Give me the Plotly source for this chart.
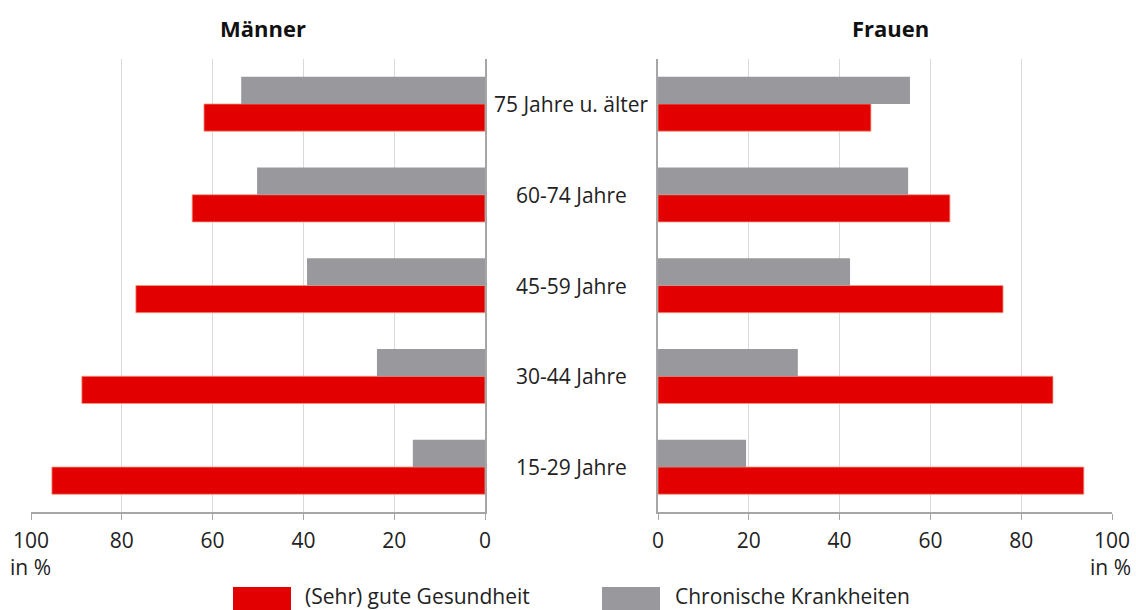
import plotly.graph_objects as go

categories = ["15-29 Jahre", "30-44 Jahre", "45-59 Jahre", "60-74 Jahre", "75 Jahre u. älter"]
men_health = [95.4, 88.8, 76.9, 64.5, 61.9]
men_chronic = [15.9, 23.8, 39.2, 50.2, 53.7]
women_health = [93.8, 87.0, 76.0, 64.3, 46.9]
women_chronic = [19.4, 30.8, 42.3, 55.1, 55.5]
tick_vals = [0, 20, 40, 60, 80, 100]
tick_text = ["0", "20", "40", "60", "80", "100"]

RED = "#E30000"
GRAY = "#99989D"
FONT = "Open Sans"
FS = 21

fig = go.Figure()
fig.add_trace(go.Bar(y=categories, x=men_health, orientation="h", marker=dict(color=RED, line=dict(color="#F39A80", width=0.8)),
                     xaxis="x", yaxis="y", showlegend=False, name="(Sehr) gute Gesundheit"))
fig.add_trace(go.Bar(y=categories, x=men_chronic, orientation="h", marker=dict(color=GRAY, line=dict(width=0)),
                     xaxis="x", yaxis="y", showlegend=False, name="Chronische Krankheiten"))
fig.add_trace(go.Bar(y=categories, x=women_health, orientation="h", marker=dict(color=RED, line=dict(color="#F39A80", width=0.8)),
                     xaxis="x2", yaxis="y2", showlegend=False, name="(Sehr) gute Gesundheit"))
fig.add_trace(go.Bar(y=categories, x=women_chronic, orientation="h", marker=dict(color=GRAY, line=dict(width=0)),
                     xaxis="x2", yaxis="y2", showlegend=False, name="Chronische Krankheiten"))

W, H = 1136, 610
ydom = [1 - 512.4 / H, 1 - 58.6 / H]
xcommon = dict(tickvals=tick_vals, ticktext=tick_text, showgrid=True, gridcolor="#D9D9D9", gridwidth=1,
               zeroline=False, showline=True, linecolor="#A6A6A6", linewidth=1.5,
               ticks="outside", ticklen=6, tickcolor="#A6A6A6", automargin=False, ticklabelstandoff=3,
               tickfont=dict(family=FONT, size=FS, color="#222"), fixedrange=True)
fig.update_layout(
    width=W, height=H, margin=dict(l=0, r=0, t=0, b=0, autoexpand=False),
    paper_bgcolor="white", plot_bgcolor="white",
    barmode="group", bargap=0.4, bargroupgap=0,
    xaxis=dict(domain=[31 / W, 485 / W], range=[100, 0], anchor="y", **xcommon),
    xaxis2=dict(domain=[658 / W, 1112 / W], range=[0, 100], anchor="y2", **xcommon),
    yaxis=dict(domain=ydom, anchor="x", side="right", showticklabels=False, showline=True, automargin=False,
               linecolor="#A6A6A6", linewidth=1.5, showgrid=False, ticks=""),
    yaxis2=dict(domain=ydom, anchor="x2", side="left", showticklabels=False, showline=True, automargin=False,
                linecolor="#A6A6A6", linewidth=1.5, showgrid=False, ticks=""),
    font=dict(family=FONT, color="#222"),
)

ann = []
for c in categories:
    ann.append(dict(xref="paper", yref="y", x=571.5 / W, y=c, text=c, showarrow=False,
                    font=dict(family=FONT, size=FS, color="#222"), xanchor="center", yanchor="middle"))
ann.append(dict(xref="paper", yref="paper", x=263 / W, y=1 - 28 / H, text="<b>Männer</b>", showarrow=False,
                font=dict(family=FONT, size=22, color="#111"), xanchor="center", yanchor="middle"))
ann.append(dict(xref="paper", yref="paper", x=890 / W, y=1 - 28 / H, text="<b>Frauen</b>", showarrow=False,
                font=dict(family=FONT, size=22, color="#111"), xanchor="center", yanchor="middle"))
ann.append(dict(xref="paper", yref="paper", x=31 / W, y=1 - 567 / H, text="in %", showarrow=False,
                font=dict(family=FONT, size=FS, color="#222"), xanchor="center", yanchor="middle"))
ann.append(dict(xref="paper", yref="paper", x=1110 / W, y=1 - 567 / H, text="in %", showarrow=False,
                font=dict(family=FONT, size=FS, color="#222"), xanchor="center", yanchor="middle"))
# legend
ann.append(dict(xref="paper", yref="paper", x=303 / W, y=1 - 596 / H, text="(Sehr) gute Gesundheit", showarrow=False,
                font=dict(family=FONT, size=FS, color="#222"), xanchor="left", yanchor="middle"))
ann.append(dict(xref="paper", yref="paper", x=673 / W, y=1 - 596 / H, text="Chronische Krankheiten", showarrow=False,
                font=dict(family=FONT, size=FS, color="#222"), xanchor="left", yanchor="middle"))
shapes = [
    dict(type="rect", xref="paper", yref="paper", x0=233 / W, x1=291 / W, y0=0, y1=1 - 587 / H,
         fillcolor=RED, line=dict(width=0)),
    dict(type="rect", xref="paper", yref="paper", x0=602 / W, x1=660 / W, y0=0, y1=1 - 587 / H,
         fillcolor=GRAY, line=dict(width=0)),
]
fig.update_layout(annotations=ann, shapes=shapes)

fig.write_html("out.html")
